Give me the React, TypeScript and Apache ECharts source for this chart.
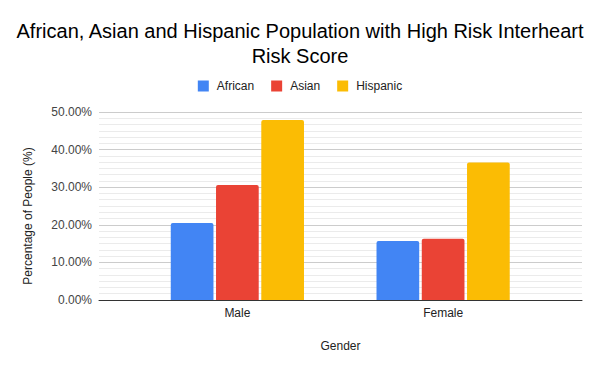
import React, { useEffect, useRef } from "react";
import * as echarts from "echarts";

const categories = ["Male", "Female"];
const seriesNames = ["African", "Asian", "Hispanic"];
const african = [20.5, 15.7];
const asian = [30.6, 16.3];
const hispanic = [47.9, 36.6];
const colors = ["#4285F4", "#EA4335", "#FBBC04"];
const yMin = 0;
const yMax = 50;
const yInterval = 10;
const titleText = "African, Asian and Hispanic Population with High Risk Interheart\nRisk Score";
const yAxisName = "Percentage of People (%)";
const xAxisName = "Gender";

const FONT = "'Liberation Sans', Arial, sans-serif";

export default function App() {
  const ref = useRef<HTMLDivElement>(null);
  useEffect(() => {
    if (!ref.current) return;
    const chart = echarts.init(ref.current, undefined, { renderer: "svg" });
    const values = [african, asian, hispanic];
    chart.setOption({
      animation: false,
      backgroundColor: "#ffffff",
      textStyle: { fontFamily: FONT },
      title: {
        text: titleText,
        left: "center",
        top: 13,
        textStyle: {
          fontFamily: FONT,
          fontSize: 20,
          fontWeight: "normal",
          lineHeight: 25,
          color: "#000000",
        },
      },
      legend: {
        data: seriesNames,
        left: "center",
        top: 75,
        itemWidth: 11,
        itemHeight: 11,
        itemGap: 17,
        icon: "rect",
        textStyle: { fontFamily: FONT, fontSize: 12, color: "#222222", padding: [0, 0, 0, 3] },
      },
      graphic: [
        {
          type: "text",
          x: 27.5,
          y: 216,
          rotation: Math.PI / 2,
          style: {
            text: yAxisName,
            fontFamily: FONT,
            fontSize: 12,
            fill: "#222222",
            textAlign: "center",
            textVerticalAlign: "middle",
          },
        },
      ],
      grid: [
        { left: 99, right: 18, top: 112, bottom: 71, containLabel: false },
        { left: 134.5, right: 54, top: 112, bottom: 71, containLabel: false },
      ],
      xAxis: [
        {
          type: "category",
          gridIndex: 0,
          data: categories,
          name: xAxisName,
          nameLocation: "middle",
          nameGap: 40,
          nameTextStyle: { fontFamily: FONT, fontSize: 12, color: "#222222" },
          axisLine: { show: true, lineStyle: { color: "#333333", width: 1 } },
          axisTick: { show: false },
          axisLabel: { show: false },
          splitLine: { show: false },
        },
        {
          type: "category",
          gridIndex: 1,
          data: categories,
          axisLine: { show: false },
          axisTick: { show: false },
          axisLabel: { show: true, margin: 7, fontFamily: FONT, fontSize: 12, color: "#222222" },
          splitLine: { show: false },
        },
      ],
      yAxis: [
        {
          type: "value",
          gridIndex: 0,
          min: yMin,
          max: yMax,
          interval: yInterval,
          axisLine: { show: false },
          axisTick: { show: false },
          axisLabel: {
            margin: 7,
            fontFamily: FONT,
            fontSize: 12,
            color: "#444444",
            formatter: (v: number) => v.toFixed(2) + "%",
          },
          splitLine: { show: true, lineStyle: { color: "#cccccc", width: 1 } },
          minorTick: { show: false, splitNumber: 6 },
          minorSplitLine: { show: true, lineStyle: { color: "#ebebeb", width: 1 } },
        },
        {
          type: "value",
          gridIndex: 1,
          min: yMin,
          max: yMax,
          interval: yInterval,
          axisLine: { show: false },
          axisTick: { show: false },
          axisLabel: { show: false },
          splitLine: { show: false },
        },
      ],
      series: seriesNames.map((name, i) => ({
        name,
        type: "bar",
        xAxisIndex: 1,
        yAxisIndex: 1,
        data: values[i],
        barWidth: 42.7,
        barGap: "6%",
        itemStyle: { color: colors[i], borderRadius: [2, 2, 0, 0] },
      })),
    });
    return () => chart.dispose();
  }, []);
  return (
    <div
      ref={ref}
      style={{ position: "absolute", left: 0, top: 0, width: 600, height: 371 }}
    />
  );
}
